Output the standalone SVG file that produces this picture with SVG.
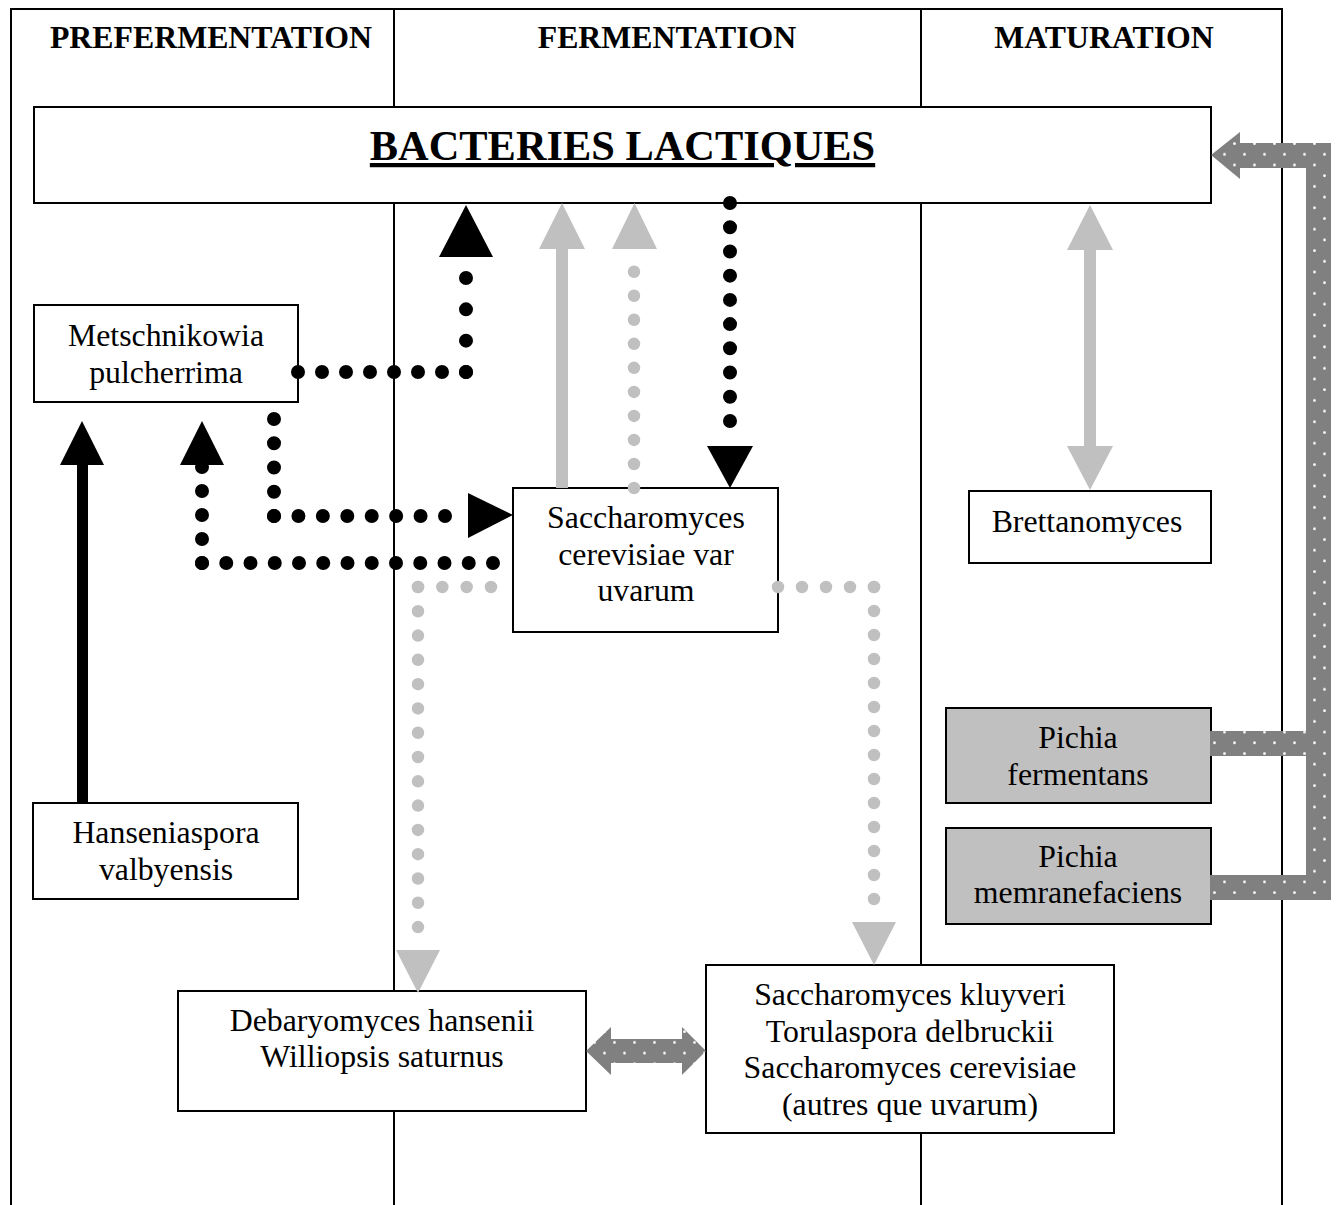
<svg xmlns="http://www.w3.org/2000/svg" width="1340" height="1205" viewBox="0 0 1340 1205">
<style>
.t{font-family:"Liberation Serif","Times New Roman",serif;font-size:31.8px;fill:#000;text-anchor:middle}
.h{font-weight:bold}
.box{fill:#fff;stroke:#000;stroke-width:2}
.gbox{fill:#c0c0c0;stroke:#000;stroke-width:2}
.fl{stroke:#000;stroke-width:2;fill:none}
.bd{stroke:#000;stroke-width:14;stroke-linecap:round;fill:none}
.gd{stroke:#c0c0c0;stroke-width:12.5;stroke-linecap:round;fill:none}
.bk{fill:#000}
.gr{fill:#c0c0c0}
.pat{fill:url(#dots)}
</style>
<defs>
<pattern id="dots" patternUnits="userSpaceOnUse" x="0" y="0" width="20" height="21.4">
<rect width="20" height="21.4" fill="#808080"/>
<circle cx="4.5" cy="4.5" r="1.4" fill="#fff"/>
<circle cx="14.5" cy="15.2" r="1.4" fill="#fff"/>
</pattern>
</defs>
<g id="frame">
<path class="fl" d="M11 1205 V9 H1282 V1205"/>
<line class="fl" x1="394" y1="9" x2="394" y2="1205"/>
<line class="fl" x1="921" y1="9" x2="921" y2="1205"/>
<text class="t h" x="211" y="48">PREFERMENTATION</text>
<text class="t h" x="667" y="48">FERMENTATION</text>
<text class="t h" x="1104" y="48">MATURATION</text>
</g>
<g id="node-bacteries">
<rect class="box" x="34" y="107" width="1177" height="96"/>
<text class="t h" x="622.5" y="160" style="font-size:42.4px" text-decoration="underline">BACTERIES LACTIQUES</text>
</g>
<g id="node-metschnikowia">
<rect class="box" x="34" y="305" width="264" height="97"/>
<text class="t" x="166" y="346">Metschnikowia</text>
<text class="t" x="166" y="383">pulcherrima</text>
</g>
<g id="node-hanseniaspora">
<rect class="box" x="33" y="803" width="265" height="96"/>
<text class="t" x="166" y="843">Hanseniaspora</text>
<text class="t" x="166" y="880">valbyensis</text>
</g>
<g id="node-saccharomyces-uvarum">
<rect class="box" x="513" y="488" width="265" height="144"/>
<text class="t" x="646" y="528">Saccharomyces</text>
<text class="t" x="646" y="565">cerevisiae var</text>
<text class="t" x="646" y="601">uvarum</text>
</g>
<g id="node-brettanomyces">
<rect class="box" x="969" y="491" width="242" height="72"/>
<text class="t" x="1087" y="532">Brettanomyces</text>
</g>
<g id="node-pichia-fermentans">
<rect class="gbox" x="946" y="708" width="265" height="95"/>
<text class="t" x="1078" y="748">Pichia</text>
<text class="t" x="1078" y="785">fermentans</text>
</g>
<g id="node-pichia-memranefaciens">
<rect class="gbox" x="946" y="828" width="265" height="96"/>
<text class="t" x="1078" y="867">Pichia</text>
<text class="t" x="1078" y="903">memranefaciens</text>
</g>
<g id="node-debaryomyces">
<rect class="box" x="178" y="991" width="408" height="120"/>
<text class="t" x="382" y="1031">Debaryomyces hansenii</text>
<text class="t" x="382" y="1067">Williopsis saturnus</text>
</g>
<g id="node-saccharomyces-kluyveri">
<rect class="box" x="706" y="965" width="408" height="168"/>
<text class="t" x="910" y="1005">Saccharomyces kluyveri</text>
<text class="t" x="910" y="1042">Torulaspora delbruckii</text>
<text class="t" x="910" y="1078">Saccharomyces cerevisiae</text>
<text class="t" x="910" y="1115">(autres que uvarum)</text>
</g>
<g id="connectors">
<!-- Hanseniaspora -> Metschnikowia -->
<rect class="bk" x="77" y="464" width="11" height="339"/>
<polygon class="bk" points="82,421 60,465 104,465"/>
<!-- Metschnikowia -> Bacteries -->
<path class="bd" d="M298 372 H466.5" stroke-dasharray="0 24"/>
<path class="bd" d="M466 372 V277.5" stroke-dasharray="0 31.33"/>
<polygon class="bk" points="466,205 439,257 493,257"/>
<!-- Metschnikowia -> Saccharomyces uvarum -->
<path class="bd" d="M274 419 V516.5" stroke-dasharray="0 24.25"/>
<path class="bd" d="M274 516 H445.5" stroke-dasharray="0 24.43"/>
<polygon class="bk" points="513,515 468,493 468,538"/>
<!-- Saccharomyces uvarum -> Metschnikowia -->
<path class="bd" d="M493 563 H201.5" stroke-dasharray="0 24.25"/>
<path class="bd" d="M202 563 V466.5" stroke-dasharray="0 24"/>
<polygon class="bk" points="202,421 180,465 224,465"/>
<!-- Saccharomyces uvarum -> Bacteries (solid grey) -->
<rect class="gr" x="556" y="248" width="12" height="240"/>
<polygon class="gr" points="562,203 539,249 585,249"/>
<!-- Saccharomyces uvarum -> Bacteries (dotted grey) -->
<path class="gd" d="M634 488 V271.2" stroke-dasharray="0 24.03"/>
<polygon class="gr" points="634.5,203 612,249 657,249"/>
<!-- Bacteries -> Saccharomyces uvarum (dotted black) -->
<path class="bd" d="M730 203 V421.5" stroke-dasharray="0 24.22"/>
<polygon class="bk" points="707,446 753,446 730,488"/>
<!-- Saccharomyces uvarum -> Debaryomyces -->
<path class="gd" d="M491 587 H417.5" stroke-dasharray="0 24.33"/>
<path class="gd" d="M418 587 V927.5" stroke-dasharray="0 24.29"/>
<polygon class="gr" points="396,950 440,950 418,993"/>
<!-- Saccharomyces uvarum -> Saccharomyces kluyveri -->
<path class="gd" d="M778 587 H874.5" stroke-dasharray="0 24"/>
<path class="gd" d="M874 587 V899.5" stroke-dasharray="0 24"/>
<polygon class="gr" points="852,922 896,922 874,965"/>
<!-- Bacteries <-> Brettanomyces -->
<rect class="gr" x="1084" y="249" width="12" height="198"/>
<polygon class="gr" points="1090,205 1067,250 1113,250"/>
<polygon class="gr" points="1090,490 1067,446 1113,446"/>
<!-- Pichia -> Bacteries -->
<polygon class="pat" points="1211,155 1240,132 1240,143 1331,143 1331,900 1210,900 1210,875 1306,875 1306,756 1210,756 1210,731 1306,731 1306,168 1240,168 1240,179"/>
<!-- Debaryomyces <-> Saccharomyces kluyveri -->
<polygon class="pat" points="586,1051 611,1027 611,1039 682,1039 682,1027 706,1051 682,1075 682,1063 611,1063 611,1075"/>
</g>
</svg>
